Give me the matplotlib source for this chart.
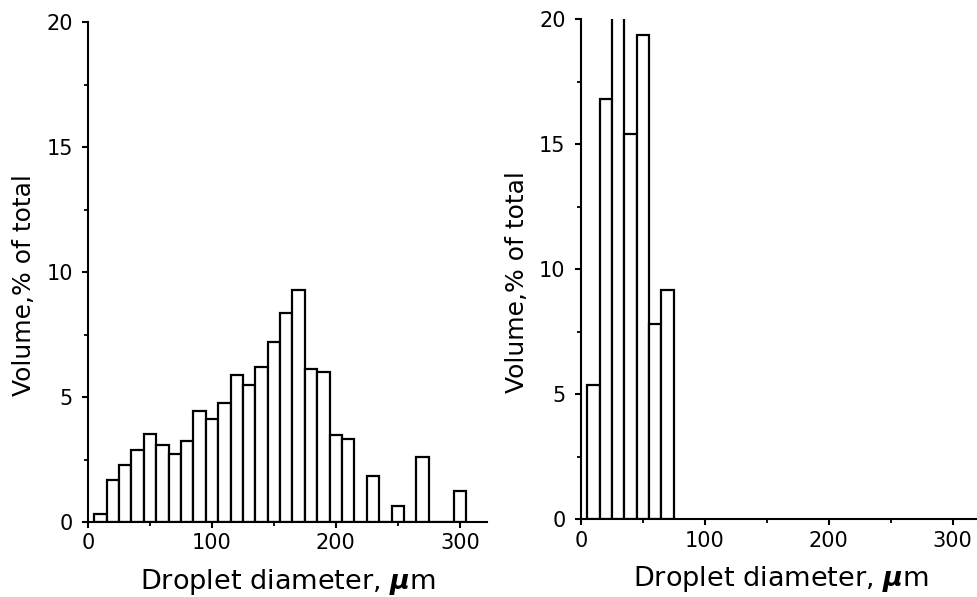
import numpy as np
import matplotlib
matplotlib.use("Agg")
import matplotlib.pyplot as plt
from matplotlib.ticker import MultipleLocator

plt.rcParams['font.family'] = ['DejaVu Sans']
plt.rcParams['mathtext.fontset'] = 'dejavusans'

# bin centres (um) and volume % for the two size distributions
left_d = [10, 20, 30, 40, 50, 60, 70, 80, 90, 100, 110, 120, 130, 140, 150,
          160, 170, 180, 190, 200, 210, 220, 230, 240, 250, 260, 270, 280, 290, 300]
left_v = [0.32, 1.7, 2.27, 2.88, 3.52, 3.1, 2.72, 3.25, 4.43, 4.14, 4.77, 5.89, 5.47, 6.21, 7.2,
          8.38, 9.3, 6.14, 6.02, 3.5, 3.32, 0, 1.85, 0, 0.65, 0, 2.61, 0, 0, 1.24]

right_d = [10, 20, 30, 40, 50, 60, 70]
right_v = [5.38, 16.82, 24.0, 15.42, 19.37, 7.82, 9.17]

ylab = 'Volume,% of total'
xlab = r'Droplet diameter, $\boldsymbol{\mu}$m'

fig = plt.figure(figsize=(9.78, 5.97), dpi=100)
ax1 = fig.add_axes([0.090, 0.1256, 0.408, 0.8375])
ax2 = fig.add_axes([0.594, 0.1300, 0.408, 0.8375])

for ax, d, v in [(ax1, left_d, left_v), (ax2, right_d, right_v)]:
    ax.bar(d, v, width=10, color='white', edgecolor='black', linewidth=1.6)
    ax.set_xlim(0, 322)
    ax.set_ylim(0, 20)
    for s in ['top', 'right']:
        ax.spines[s].set_visible(False)
    for s in ['left', 'bottom']:
        ax.spines[s].set_linewidth(1.5)
    ax.xaxis.set_major_locator(MultipleLocator(100))
    ax.xaxis.set_minor_locator(MultipleLocator(50))
    ax.yaxis.set_major_locator(MultipleLocator(5))
    ax.yaxis.set_minor_locator(MultipleLocator(2.5))
    ax.tick_params(which='major', direction='out', length=4, width=1.5, labelsize=15)
    ax.tick_params(which='minor', direction='out', length=3, width=1.3)
    ax.tick_params(axis='y', which='major', pad=7)
    ax.tick_params(axis='x', which='major', pad=4)
    ax.set_ylabel(ylab, fontsize=18)
    ax.set_xlabel(xlab, fontsize=19.5)
    ax.yaxis.set_label_coords(-0.13, 0.474)
    ax.xaxis.set_label_coords(0.5, -0.09)

fig.savefig('out.png', dpi=100)
